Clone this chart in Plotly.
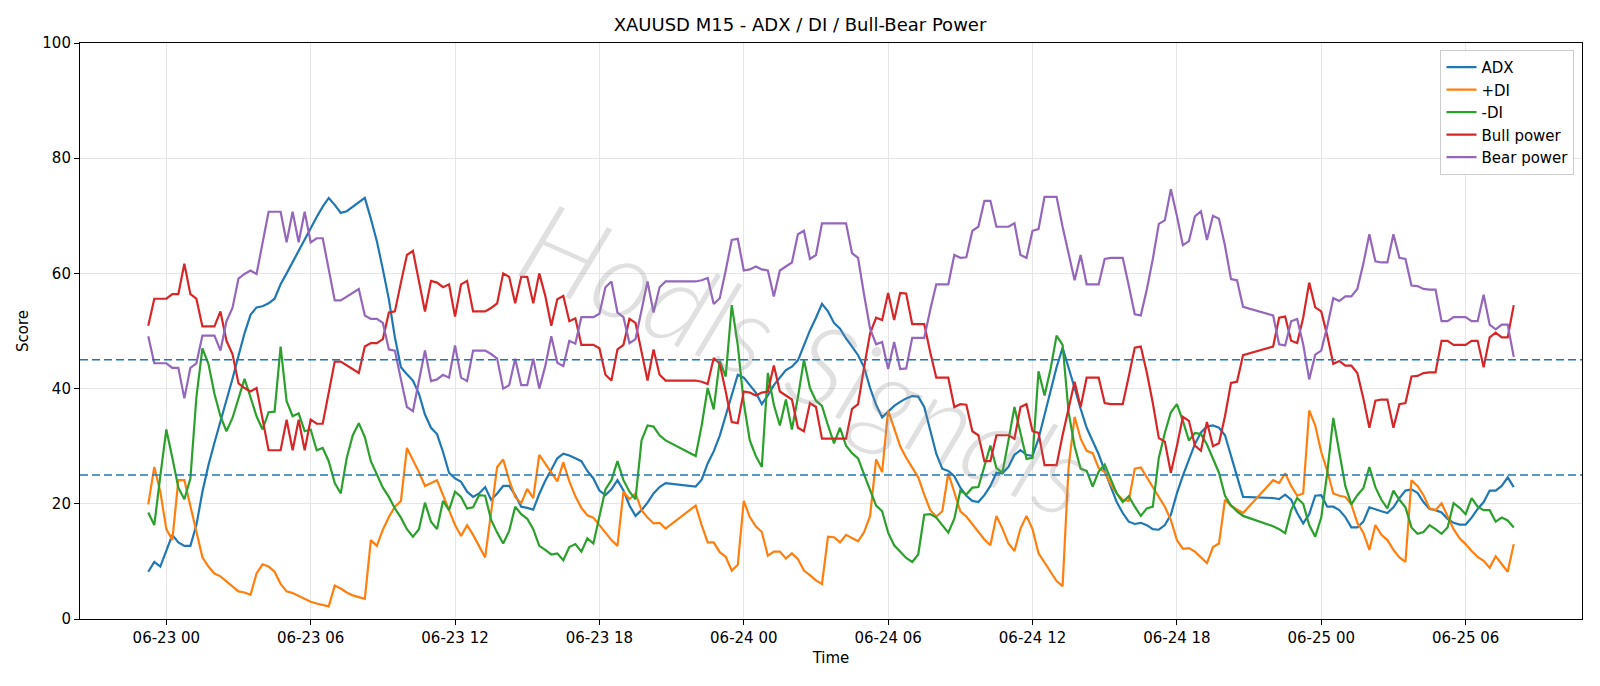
import pandas as pd
import plotly.graph_objects as go

# 15-minute bars, the daily 21:00-21:45 break is absent from the data
times = pd.date_range("2025-06-22 23:15", "2025-06-25 08:00", freq="15min")
times = times[times.hour != 21]

adx = [
    8.2, 9.9, 9.1, 11.9, 14.6, 13.3, 12.7, 12.7, 16.3, 22.1,
    26.7, 30.6, 34.2, 37.8, 41.7, 45.7, 49.6, 52.8, 54.1, 54.3,
    54.8, 55.6, 58.1, 60.0, 62.0, 63.9, 65.9, 67.9, 69.8, 71.6,
    73.1, 71.9, 70.5, 70.8, 71.6, 72.3, 73.1, 69.5, 65.6, 60.7,
    55.5, 48.9, 43.7, 42.5, 41.4, 39.1, 35.5, 33.2, 32.1, 29.0,
    25.4, 24.4, 23.8, 22.1, 21.2, 21.8, 22.9, 20.7, 21.8, 23.1,
    23.1, 21.5, 19.5, 19.3, 19.0, 21.7, 24.0, 25.9, 27.9, 28.7,
    28.4, 27.9, 27.4, 25.7, 24.4, 22.3, 21.5, 22.5, 24.1, 22.3,
    19.7, 17.9, 18.9, 20.2, 21.8, 22.9, 23.6,
    23.0, 24.2, 27.0, 29.1, 31.8, 35.2, 38.8, 42.4, 41.9,
    40.6, 39.3, 37.3, 38.8, 40.6, 41.9, 43.2, 43.8, 44.9, 47.5,
    50.1, 52.3, 54.7, 53.4, 51.4, 50.4, 48.7, 47.3, 45.8, 43.7,
    40.1, 37.2, 35.0, 36.0, 37.0, 37.7, 38.3, 38.7, 38.6, 36.8,
    32.9, 28.7, 26.1, 25.7, 24.8, 22.8, 21.4, 20.5, 20.3, 21.5,
    23.1, 25.4, 25.3, 26.4, 28.5, 29.3, 28.5, 28.3, 31.3, 35.5,
    39.8, 43.7, 47.1, 43.8, 40.1, 36.5, 33.2, 30.9, 28.6, 25.7,
    23.1, 20.3, 18.4, 16.9, 16.5, 16.7, 16.3, 15.6, 15.5, 16.3,
    18.1, 21.8, 24.9, 27.8, 30.4, 32.4, 33.4, 33.6, 33.2, 31.9,
    28.3, 24.8, 21.2,
    21.0, 20.8, 21.6,
    20.7, 18.4, 16.6, 18.2, 21.4, 21.5, 19.5, 19.5, 18.9, 17.7,
    15.9, 15.9, 16.9, 19.4, 19.0, 18.7, 18.4, 19.4, 21.0, 22.3,
    22.5, 21.9, 20.3, 19.1, 18.9, 18.5, 17.4, 16.7, 16.4, 16.4,
    17.6, 19.1, 20.3, 22.3, 22.3, 23.1, 24.6, 22.9,
]

plus_di = [
    19.9, 26.4, 22.1, 15.6, 13.7, 24.1, 24.1, 19.5, 15.0, 10.7,
    9.1, 7.9, 7.4, 6.5, 5.7, 4.8, 4.6, 4.2, 7.9, 9.5,
    9.1, 8.2, 6.1, 4.8, 4.5, 4.0, 3.5, 3.0, 2.7, 2.4,
    2.2, 5.8, 5.3, 4.6, 4.1, 3.8, 3.5, 13.7, 12.7, 15.5,
    17.7, 19.5, 20.5, 29.7, 27.7, 25.5, 23.1, 23.6, 24.1, 21.5,
    18.9, 16.3, 14.4, 16.3, 14.6, 12.7, 10.7, 18.5, 26.4, 27.7,
    24.1, 21.2, 20.1, 22.6, 21.0, 28.5, 27.0, 25.4, 23.9, 27.2,
    23.9, 21.3, 19.3, 18.0, 17.6, 16.3, 15.0, 13.7, 12.7, 22.1,
    20.8, 21.8, 18.9, 17.6, 16.6, 16.7, 15.7,
    19.7, 16.3, 13.3, 13.3, 11.6, 10.8, 8.4, 9.4, 20.5,
    17.7, 16.1, 15.1, 11.0, 11.7, 11.7, 10.5, 11.4, 10.4, 8.4,
    7.6, 6.7, 6.1, 14.3, 14.2, 13.3, 14.6, 14.1, 13.5, 15.1,
    17.9, 27.7, 25.5, 36.2, 33.2, 30.0, 28.0, 26.4, 24.6, 21.6,
    18.9, 17.8, 18.7, 25.3, 22.1, 18.7, 17.8, 16.4, 15.1, 13.8,
    12.8, 17.9, 15.7, 13.1, 11.8, 15.7, 17.9, 15.6, 11.4, 9.9,
    8.2, 6.6, 5.7, 26.4, 35.1, 31.3, 29.2, 28.8, 26.2, 25.5,
    23.4, 21.8, 20.7, 20.5, 26.1, 26.3, 24.6, 23.1, 21.2, 19.5,
    17.2, 13.7, 12.2, 12.3, 11.7, 10.7, 9.7, 12.5, 13.1, 20.7,
    19.7, 19.0, 18.4,
    24.1, 23.6, 25.3,
    23.1, 21.4, 21.8, 36.2, 33.6, 29.0, 25.7, 21.8, 21.4, 21.2,
    19.9, 16.7, 15.0, 12.0, 16.3, 14.6, 13.7, 12.0, 10.7, 9.9,
    24.1, 23.1, 21.5, 19.2, 18.9, 20.1, 17.9, 15.6, 14.0, 13.0,
    11.8, 10.8, 10.1, 8.9, 10.9, 9.5, 8.2, 13.0,
]

minus_di = [
    18.5, 16.3, 24.8, 32.9, 28.0, 22.8, 20.8, 24.4, 38.5, 47.0,
    44.3, 39.1, 35.2, 32.6, 34.9, 38.5, 41.7, 38.5, 35.2, 32.9,
    35.9, 36.0, 47.3, 37.8, 35.2, 35.7, 32.6, 32.9, 29.3, 29.7,
    27.4, 23.6, 21.8, 28.0, 31.9, 34.0, 31.6, 27.4, 25.1, 22.8,
    21.2, 19.2, 17.6, 15.6, 14.3, 15.6, 20.2, 16.9, 15.6, 20.5,
    18.9, 22.1, 21.2, 19.2, 19.4, 21.5, 21.4, 17.2, 15.0, 13.1,
    15.3, 19.5, 18.2, 17.4, 15.6, 12.7, 12.0, 11.2, 11.4, 10.2,
    12.5, 13.0, 11.7, 14.0, 13.1, 18.1, 22.5, 24.1, 27.4, 24.1,
    22.1, 20.8, 31.0, 33.6, 33.4, 31.9, 31.0,
    28.3, 33.6, 40.1, 36.4, 44.8, 42.1, 54.5, 47.6, 37.5,
    31.0, 28.3, 26.4, 42.7, 37.2, 33.6, 38.1, 32.9, 38.5, 45.0,
    40.1, 37.9, 37.0, 33.6, 30.5, 33.2, 30.1, 28.8, 27.9, 25.1,
    22.5, 19.7, 18.7, 15.0, 12.8, 11.6, 10.6, 9.9, 11.2, 18.1,
    18.2, 17.6, 16.4, 15.0, 17.4, 22.3, 21.6, 22.8, 22.9, 26.7,
    30.1, 26.2, 25.4, 31.0, 36.8, 32.3, 27.8, 28.0, 43.0, 38.8,
    43.4, 49.2, 47.6, 35.9, 30.0, 26.1, 25.7, 23.0, 25.6, 26.8,
    24.4, 21.8, 20.3, 21.3, 19.5, 17.9, 19.2, 19.5, 28.0, 32.3,
    35.9, 37.3, 34.4, 31.0, 32.3, 32.1, 30.3, 27.7, 25.4, 21.4,
    19.7, 18.7, 17.9,
    16.1, 15.6, 14.9,
    18.9, 21.0, 20.0, 16.3, 14.3, 17.6, 25.4, 34.9, 29.3, 23.1,
    19.9, 21.5, 22.7, 26.4, 22.9, 20.7, 19.2, 22.3, 20.7, 19.4,
    15.9, 14.8, 15.1, 16.3, 15.6, 14.8, 15.9, 20.1, 19.3, 18.2,
    21.0, 19.5, 18.9, 18.9, 16.9, 17.6, 17.1, 15.9,
]

bull_power = [
    50.9, 55.6, 55.6, 55.6, 56.4, 56.4, 61.7, 56.4, 55.6, 50.8,
    50.8, 50.8, 53.4, 48.3, 46.0, 40.9, 40.1, 39.5, 40.1, 34.6,
    29.3, 29.3, 29.3, 34.6, 29.3, 34.6, 29.3, 34.6, 33.9, 33.9,
    39.1, 44.7, 44.7, 44.0, 43.4, 42.7, 47.3, 47.9, 47.9, 48.6,
    53.2, 53.4, 58.4, 63.2, 63.9, 58.7, 53.4, 58.7, 58.4, 57.6,
    58.1, 52.5, 58.1, 58.7, 53.4, 53.4, 53.4, 54.0, 54.8, 60.0,
    59.4, 54.8, 59.4, 59.4, 54.8, 60.0, 56.1, 50.9, 55.5, 56.1,
    51.7, 52.2, 47.6, 47.6, 47.6, 47.0, 42.4, 41.4, 46.8, 47.6,
    52.1, 51.4, 46.3, 41.4, 46.8, 42.4, 41.4,
    41.4, 41.2, 40.8, 45.3, 44.3, 39.5, 34.2, 34.0, 39.5,
    39.3, 38.8, 39.3, 39.5, 44.0, 39.5, 38.8, 38.1, 33.2, 32.6,
    37.5, 36.8, 31.3, 31.3, 31.3, 31.3, 31.3, 36.5, 37.3, 43.7,
    49.6, 52.3, 51.9, 56.6, 51.9, 56.6, 56.5, 51.2, 51.2, 51.2,
    46.3, 41.9, 41.9, 41.9, 36.8, 37.3, 37.2, 32.6, 31.9, 27.4,
    27.4, 31.9, 31.9, 31.9, 31.3, 36.8, 37.3, 32.6, 32.3, 26.7,
    26.7, 26.7, 31.9, 36.8, 41.2, 36.8, 41.9, 41.9, 41.9, 37.5,
    37.3, 37.3, 37.3, 42.1, 47.1, 47.3, 42.8, 37.5, 31.4, 30.8,
    25.4, 30.0, 35.1, 34.4, 30.1, 29.2, 34.2, 30.0, 30.5, 35.2,
    41.0, 41.2, 45.8,
    47.3, 52.3, 52.5,
    48.3, 47.9, 52.3, 58.4, 54.1, 53.4, 49.2, 44.3, 44.8, 44.0,
    44.0, 42.7, 38.3, 33.2, 37.9, 38.1, 38.1, 33.2, 37.3, 37.5,
    42.1, 42.2, 42.7, 42.8, 42.8, 48.3, 48.3, 47.6, 47.6, 47.6,
    48.3, 48.3, 43.7, 48.9, 49.7, 48.9, 48.9, 54.5,
]

bear_power = [
    49.1, 44.4, 44.4, 44.4, 43.6, 43.6, 38.3, 43.6, 44.4, 49.2,
    49.2, 49.2, 46.6, 51.7, 54.0, 59.1, 59.9, 60.5, 59.9, 65.4,
    70.7, 70.7, 70.7, 65.4, 70.7, 65.4, 70.7, 65.4, 66.1, 66.1,
    60.9, 55.3, 55.3, 56.0, 56.6, 57.3, 52.7, 52.1, 52.1, 51.4,
    46.8, 46.6, 41.6, 36.8, 36.1, 41.3, 46.6, 41.3, 41.6, 42.4,
    41.9, 47.5, 41.9, 41.3, 46.6, 46.6, 46.6, 46.0, 45.2, 40.0,
    40.6, 45.2, 40.6, 40.6, 45.2, 40.0, 43.9, 49.1, 44.5, 43.9,
    48.3, 47.8, 52.4, 52.4, 52.4, 53.0, 57.6, 58.6, 53.2, 52.4,
    47.9, 48.6, 53.7, 58.6, 53.2, 57.6, 58.6,
    58.6, 58.8, 59.2, 54.7, 55.7, 60.5, 65.8, 66.0, 60.5,
    60.7, 61.2, 60.7, 60.5, 56.0, 60.5, 61.2, 61.9, 66.8, 67.4,
    62.5, 63.2, 68.7, 68.7, 68.7, 68.7, 68.7, 63.5, 62.7, 56.3,
    50.4, 47.7, 48.1, 43.4, 48.1, 43.4, 43.5, 48.8, 48.8, 48.8,
    53.7, 58.1, 58.1, 58.1, 63.2, 62.7, 62.8, 67.4, 68.1, 72.6,
    72.6, 68.1, 68.1, 68.1, 68.7, 63.2, 62.7, 67.4, 67.7, 73.3,
    73.3, 73.3, 68.1, 63.2, 58.8, 63.2, 58.1, 58.1, 58.1, 62.5,
    62.7, 62.7, 62.7, 57.9, 52.9, 52.7, 57.2, 62.5, 68.6, 69.2,
    74.6, 70.0, 64.9, 65.6, 69.9, 70.8, 65.8, 70.0, 69.5, 64.8,
    59.0, 58.8, 54.2,
    52.7, 47.7, 47.5,
    51.7, 52.1, 47.7, 41.6, 45.9, 46.6, 50.8, 55.7, 55.2, 56.0,
    56.0, 57.3, 61.7, 66.8, 62.1, 61.9, 61.9, 66.8, 62.7, 62.5,
    57.9, 57.8, 57.3, 57.2, 57.2, 51.7, 51.7, 52.4, 52.4, 52.4,
    51.7, 51.7, 56.3, 51.1, 50.3, 51.1, 51.1, 45.5,
]

series = [
    ("ADX", adx, "#1f77b4"),
    ("+DI", plus_di, "#ff7f0e"),
    ("-DI", minus_di, "#2ca02c"),
    ("Bull power", bull_power, "#d62728"),
    ("Bear power", bear_power, "#9467bd"),
]
for name, vals, _ in series:
    if len(vals) != len(times):
        raise ValueError(f"{name}: {len(vals)} values vs {len(times)} times")

levels = [45, 25]
y_ticks = [0, 20, 40, 60, 80, 100]

fig = go.Figure()
for name, vals, color in series:
    fig.add_trace(go.Scatter(x=times, y=vals, mode="lines", name=name,
                             line=dict(color=color, width=2.2)))

for lv in levels:
    fig.add_shape(type="line", xref="paper", x0=0, x1=1, yref="y", y0=lv, y1=lv,
                  line=dict(color="#1f77b4", width=1.6, dash="8px,4px"), layer="above")

span = times[-1] - times[0]
x_range = [times[0] - span * 0.05, times[-1] + span * 0.05]

fig.add_annotation(text="Hodls Signals", xref="paper", yref="paper", x=0.485, y=0.455,
                   showarrow=False, textangle=24,
                   font=dict(family="Lato, DejaVu Sans", size=114, weight=300, style="italic",
                             color="rgba(140,140,140,0.27)"))

axis_common = dict(showline=True, linecolor="black", linewidth=1.1, mirror=True,
                   ticks="outside", ticklen=5, tickcolor="black", tickwidth=1,
                   showgrid=True, gridcolor="#e6e6e6", gridwidth=1, zeroline=False,
                   tickfont=dict(size=15, color="black"))

fig.update_layout(
    width=1600, height=686,
    margin=dict(l=80, r=18, t=43, b=67, autoexpand=False),
    paper_bgcolor="white", plot_bgcolor="white",
    font=dict(family="DejaVu Sans", size=15, color="black"),
    title=dict(text="XAUUSD M15 - ADX / DI / Bull-Bear Power", x=0.5, xanchor="center",
               y=1 - 25 / 686, yanchor="middle", font=dict(size=18, color="black")),
    legend=dict(x=0.995, y=0.988, xanchor="right", yanchor="top",
                bgcolor="rgba(255,255,255,0.85)", bordercolor="#cccccc", borderwidth=1,
                font=dict(size=15), tracegroupgap=0),
    xaxis=dict(type="date", range=x_range, tickformat="%m-%d %H",
               tick0="2025-06-23 00:00", dtick=6 * 3600 * 1000,
               title=dict(text="Time", standoff=6, font=dict(size=15)), **axis_common),
    yaxis=dict(range=[0, 100], tickvals=y_ticks,
               title=dict(text="Score", standoff=10, font=dict(size=15)), **axis_common),
)

fig.write_html("out.html")
